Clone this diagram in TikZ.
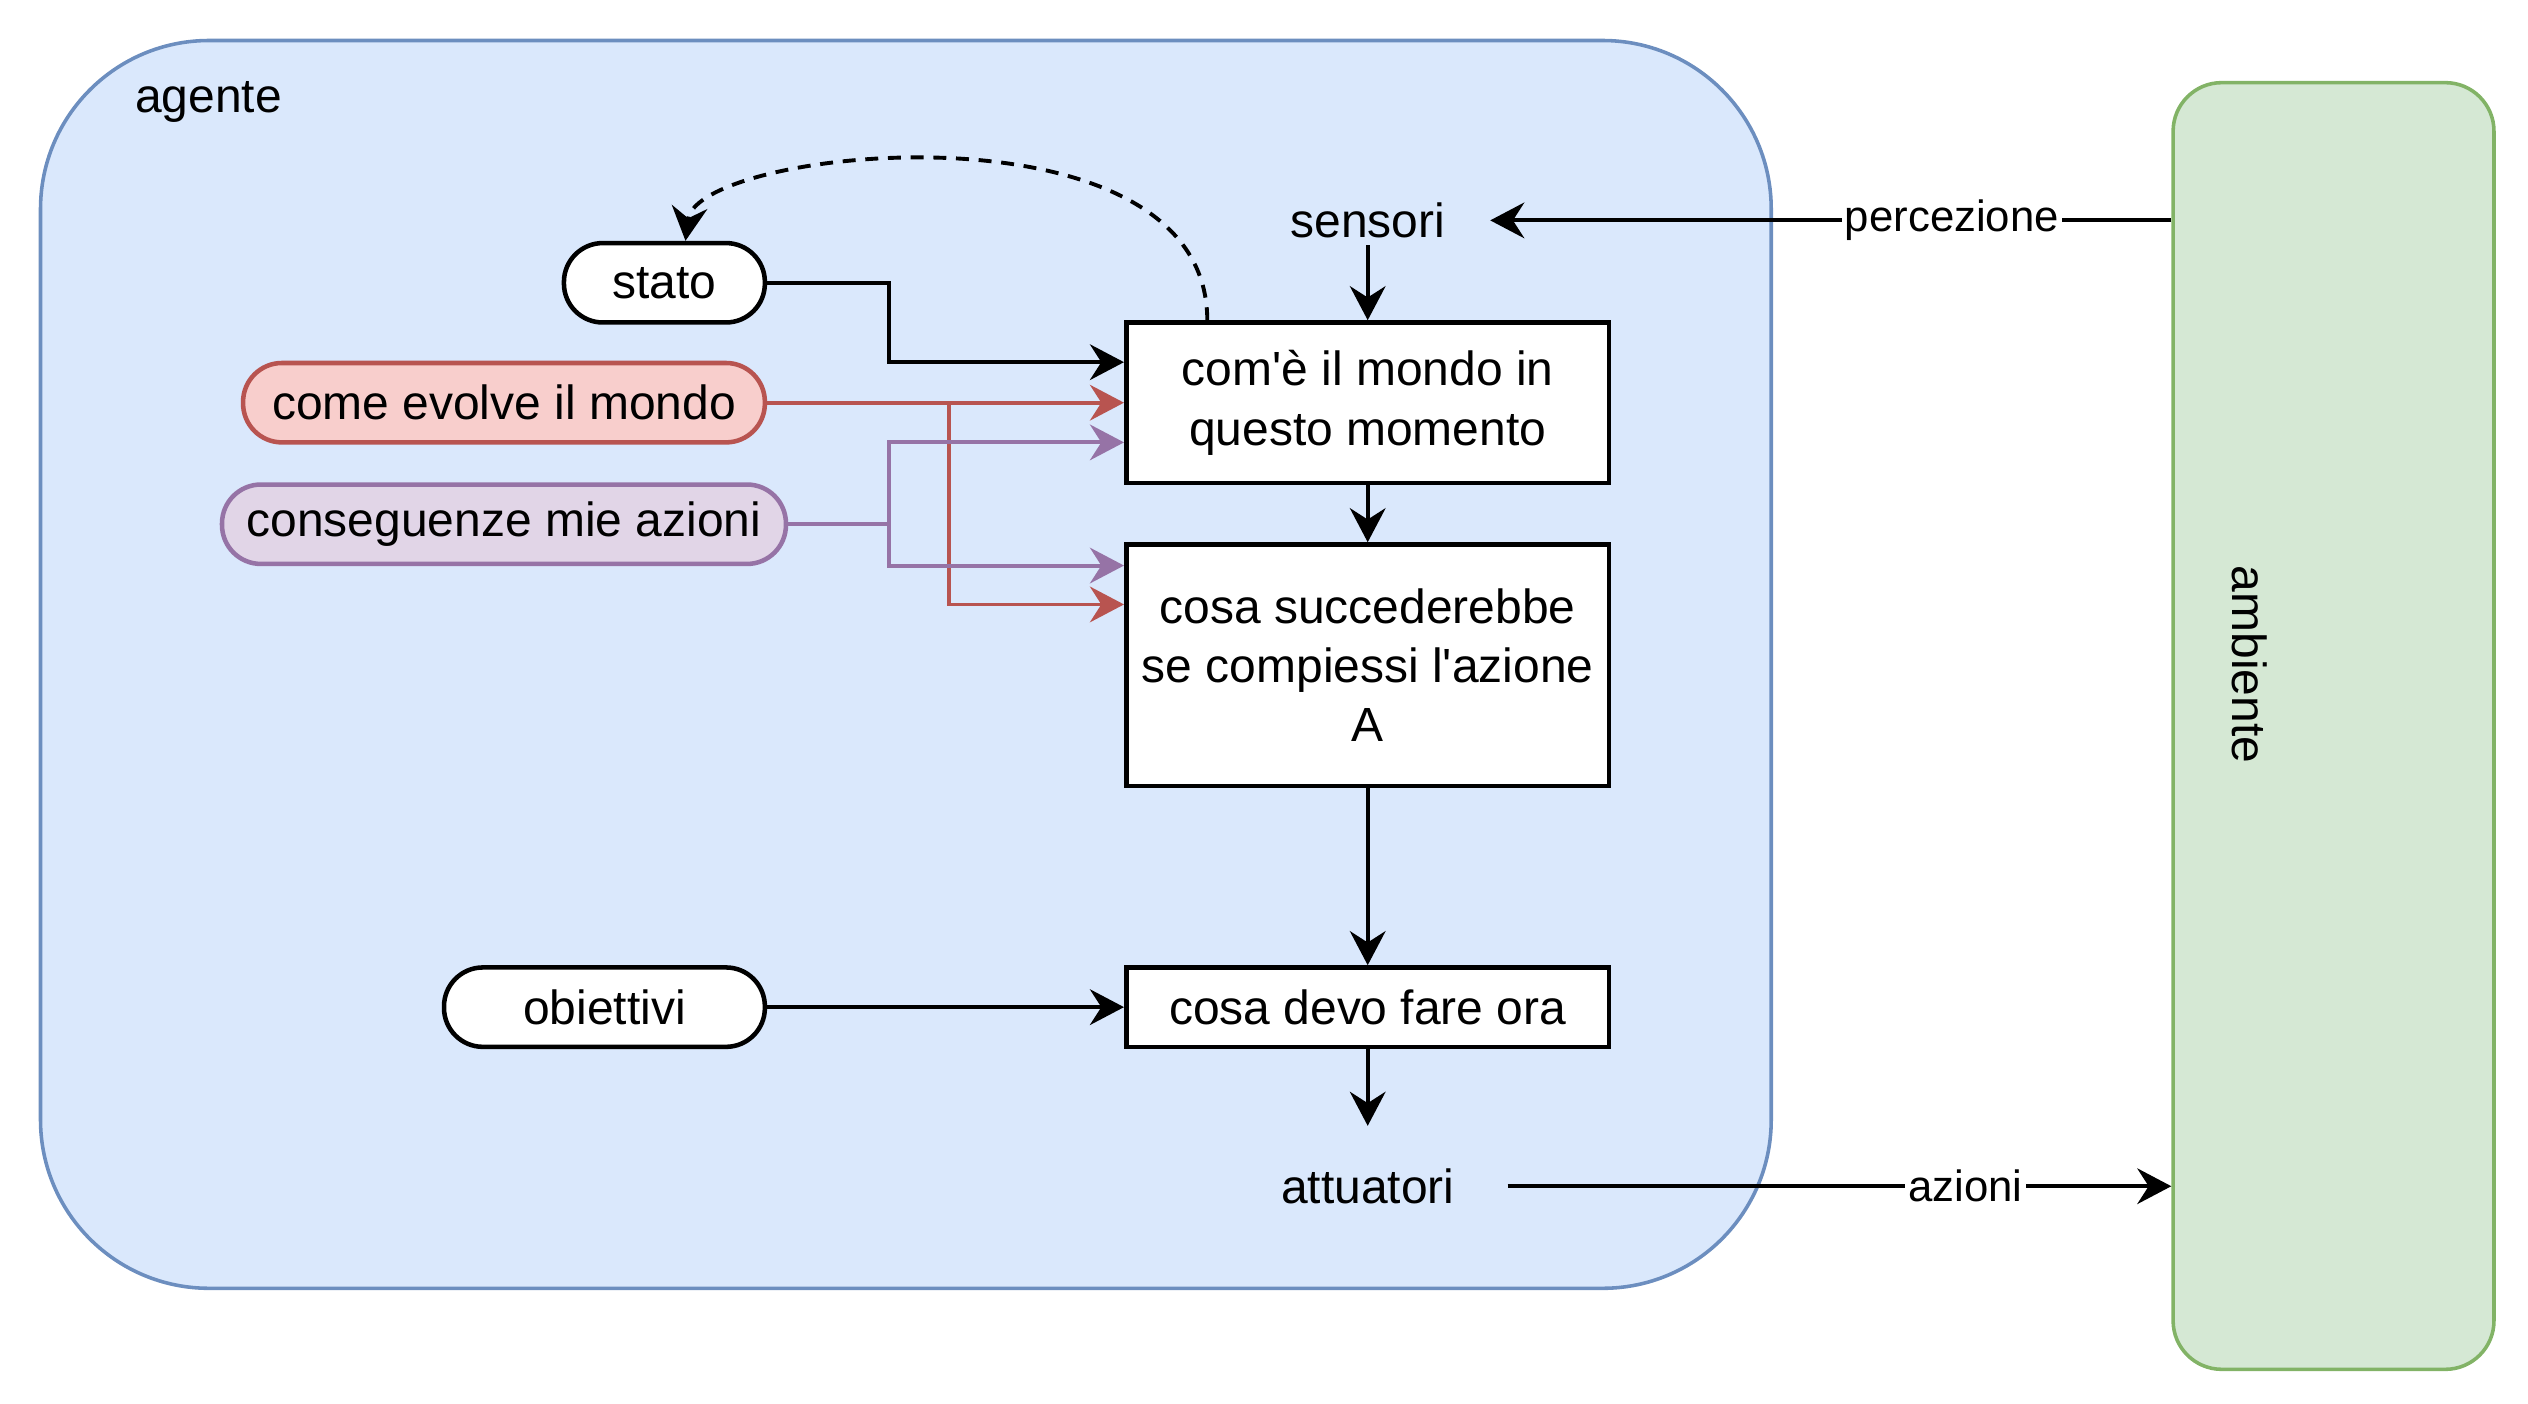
\documentclass[tikz,border=0pt]{standalone}
\usepackage{fontspec}
\setmainfont{Liberation Sans}
\usetikzlibrary{arrows.meta}
\definecolor{agentfill}{HTML}{DAE8FC}
\definecolor{agentdraw}{HTML}{6C8EBF}
\definecolor{envfill}{HTML}{D5E8D4}
\definecolor{envdraw}{HTML}{82B366}
\definecolor{redfill}{HTML}{F8CECC}
\definecolor{reddraw}{HTML}{B85450}
\definecolor{purplefill}{HTML}{E1D5E7}
\definecolor{purpledraw}{HTML}{9673A6}
\begin{document}
\begin{tikzpicture}[x=0.5pt, y=-0.5pt,
    font=\fontsize{14.8pt}{18.3pt}\selectfont,
    txt/.style={inner sep=2pt},
    pill/.style={draw, line width=1.4pt, fill=white, rounded corners=12pt, minimum height=24.5pt, inner sep=0pt},
    box/.style={draw, line width=1.4pt, fill=white, minimum width=149pt, align=center, inner sep=0pt},
    arr/.style={-{Stealth[length=10.5pt, width=11pt, inset=3.5pt]}, line width=1.2pt},
    lbl/.style={fill=white, inner sep=1pt, font=\fontsize{13.5pt}{16pt}\selectfont}]
    \useasboundingbox (0,0) rectangle (1560,866);
    \node[draw=agentdraw, fill=agentfill, line width=1.1pt, rounded corners=52pt, minimum width=534pt, minimum height=385pt] (agente) at (559,410) {};
    \node[txt, anchor=west] (agentelbl) at (79,63) {agente};
    \node[draw=envdraw, fill=envfill, line width=1.1pt, rounded corners=15pt, minimum width=99pt, minimum height=397pt] (ambiente) at (1440,448) {};
    \node[txt, rotate=-90] (ambientelbl) at (1388,410) {ambiente};
    \node[txt] (sensori) at (844,136) {sensori};
    \node[txt] (attuatori) at (844,732) {attuatori};
    \node[pill, minimum width=62pt] (stato) at (410,174.5) {stato};
    \node[pill, fill=redfill, draw=reddraw, minimum width=161pt] (evolve) at (311,248.5) {come evolve il mondo};
    \node[pill, fill=purplefill, draw=purpledraw, minimum width=174pt] (conseg) at (311,323.5) {conseguenze mie azioni};
    \node[pill, minimum width=99pt] (obiettivi) at (373,621.5) {obiettivi};
    \node[box, minimum height=49.5pt] (mondo) at (844,248.5) {com\textquotesingle è il mondo in\\questo momento};
    \node[box, minimum height=74.5pt] (succ) at (844,410.5) {cosa succederebbe\\se compiessi l\textquotesingle azione\\A};
    \node[box, minimum height=24.5pt] (fare) at (844,621.5) {cosa devo fare ora};
    \draw[arr] (sensori.south) -- (mondo.north);
    \draw[arr] (mondo) -- (succ);
    \draw[arr] (succ) -- (fare);
    \draw[arr, shorten >=11pt] (fare.south) -- (attuatori.north);
    \draw[arr] (stato.east) -- ++(75,0) |- ([yshift=12.5pt]mondo.west);
    \draw[arr, reddraw] (evolve) -- (mondo);
    \draw[arr, reddraw] (evolve.east) ++(112,0) |- ([yshift=18.75pt]succ.west);
    \draw[arr, purpledraw] (conseg.east) -- ++(62,0) |- ([yshift=-12.25pt]mondo.west);
    \draw[arr, purpledraw] (conseg.east) ++(62,0) |- ([yshift=30.75pt]succ.west);
    \draw[arr] (obiettivi) -- (fare);
    \draw[arr, dash pattern=on 4pt off 3pt] ([xshift=-49.5pt]mondo.north) .. controls +(0,-139) and +(7,-58) .. ([xshift=6.5pt]stato.north);
    \draw[arr, shorten >=11.75pt] (sensori -| ambiente.west) -- node[lbl, pos=0.305] (percezione) {percezione} (sensori.east);
    \draw[arr, shorten <=14.25pt] (attuatori.east) -- node[lbl, pos=0.71] (azioni) {azioni} (attuatori -| ambiente.west);
\end{tikzpicture}
\end{document}
